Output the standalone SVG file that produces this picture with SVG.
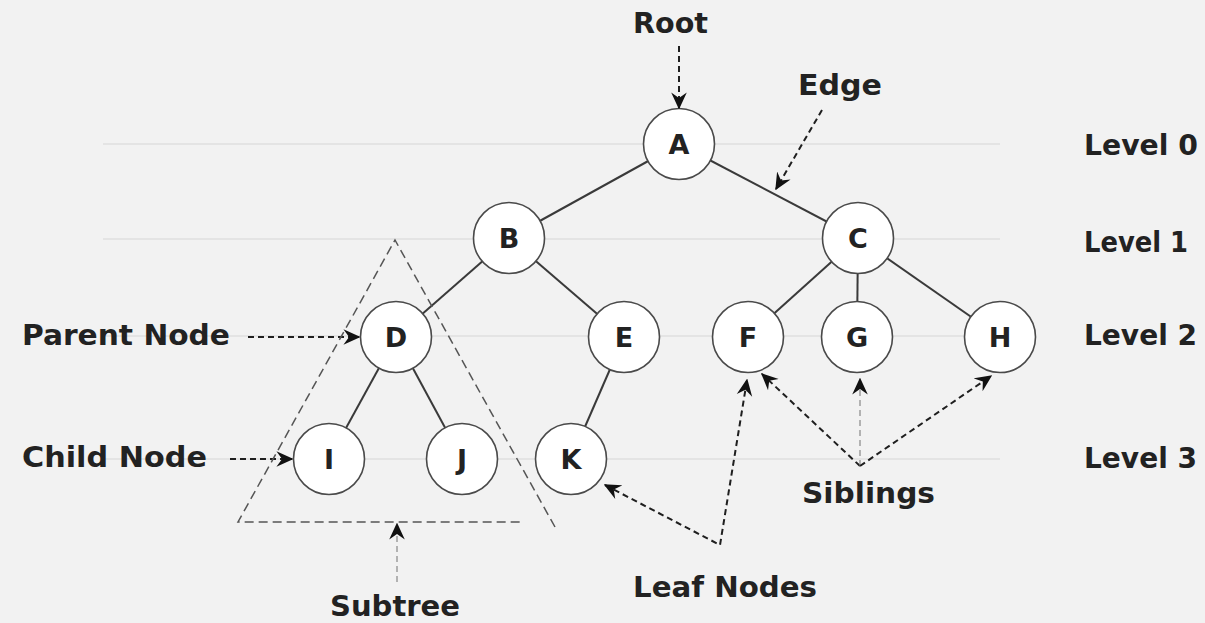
<svg xmlns="http://www.w3.org/2000/svg" width="1205" height="623" viewBox="0 0 1205 623">
  <defs>
    <marker id="arr" viewBox="0 0 12 12" refX="11" refY="6" markerWidth="17" markerHeight="17" markerUnits="userSpaceOnUse" orient="auto-start-reverse">
      <path d="M0,0.5 L12,6 L0,11.5 L4,6 z" fill="#111111"/>
    </marker>
    <style>
      .bg { fill: #f2f2f2; }
      .lvl { stroke: #e4e4e4; stroke-width: 2; fill: none; }
      .edge { stroke: #3a3a3a; stroke-width: 2; fill: none; }
      .node circle { fill: #ffffff; stroke: #4a4a4a; stroke-width: 1.6; }
      .node text { font-family: "DejaVu Sans", "Liberation Sans", sans-serif; font-weight: bold; font-size: 27px; fill: #222222; text-anchor: middle; }
      .lbl { font-family: "DejaVu Sans", "Liberation Sans", sans-serif; font-weight: bold; font-size: 29px; fill: #222222; }
      .dash { stroke: #1f1f1f; stroke-width: 2; stroke-dasharray: 6 4; fill: none; }
      .dashl { stroke: #555555; stroke-width: 1.5; stroke-dasharray: 9 5; fill: none; }
      .dashf { stroke: #888888; stroke-width: 1.2; stroke-dasharray: 6 4; fill: none; }
    </style>
  </defs>
  <rect class="bg" x="0" y="0" width="1205" height="623"/>

  <g id="levels">
    <line class="lvl" x1="103" y1="144" x2="1000" y2="144"/>
    <line class="lvl" x1="103" y1="239" x2="1000" y2="239"/>
    <line class="lvl" x1="103" y1="336" x2="1000" y2="336"/>
    <line class="lvl" x1="103" y1="459" x2="1000" y2="459"/>
  </g>

  <g id="connectors">
    <line class="edge" x1="679" y1="144" x2="509" y2="238"/>
    <line class="edge" x1="679" y1="144" x2="858" y2="238"/>
    <line class="edge" x1="509" y1="238" x2="396" y2="337"/>
    <line class="edge" x1="509" y1="238" x2="624" y2="337"/>
    <line class="edge" x1="858" y1="238" x2="748" y2="337"/>
    <line class="edge" x1="858" y1="238" x2="857" y2="337"/>
    <line class="edge" x1="858" y1="238" x2="1000" y2="337"/>
    <line class="edge" x1="396" y1="337" x2="329" y2="459"/>
    <line class="edge" x1="396" y1="337" x2="462" y2="459"/>
    <line class="edge" x1="624" y1="337" x2="571" y2="459"/>
  </g>

  <g id="nodes">
    <g id="node-A" class="node"><circle cx="679" cy="144" r="35.5"/><text x="679" y="154">A</text></g>
    <g id="node-B" class="node"><circle cx="509" cy="238" r="35.5"/><text x="509" y="248">B</text></g>
    <g id="node-C" class="node"><circle cx="858" cy="238" r="35.5"/><text x="858" y="248">C</text></g>
    <g id="node-D" class="node"><circle cx="396" cy="337" r="35.5"/><text x="396" y="347">D</text></g>
    <g id="node-E" class="node"><circle cx="624" cy="337" r="35.5"/><text x="624" y="347">E</text></g>
    <g id="node-F" class="node"><circle cx="748" cy="337" r="35.5"/><text x="748" y="347">F</text></g>
    <g id="node-G" class="node"><circle cx="857" cy="337" r="35.5"/><text x="857" y="347">G</text></g>
    <g id="node-H" class="node"><circle cx="1000" cy="337" r="35.5"/><text x="1000" y="347">H</text></g>
    <g id="node-I" class="node"><circle cx="329" cy="459" r="35.5"/><text x="329" y="469">I</text></g>
    <g id="node-J" class="node"><circle cx="462" cy="459" r="35.5"/><text x="462" y="469">J</text></g>
    <g id="node-K" class="node"><circle cx="571" cy="459" r="35.5"/><text x="571" y="469">K</text></g>
  </g>

  <g id="annotations">
    <line class="dash" x1="679" y1="46" x2="679" y2="108" marker-end="url(#arr)"/>
    <line class="dash" x1="822" y1="110" x2="776" y2="189" marker-end="url(#arr)"/>
    <line class="dash" x1="248" y1="337" x2="359" y2="337" marker-end="url(#arr)"/>
    <line class="dash" x1="230" y1="459" x2="292" y2="459" marker-end="url(#arr)"/>
    <polyline class="dashl" points="555,527 395,240 238,522 520,522"/>
    <line class="dashf" x1="397" y1="582" x2="397" y2="524" marker-end="url(#arr)"/>
    <polyline class="dash" points="605,485 720,545 747,380" marker-start="url(#arr)" marker-end="url(#arr)"/>
    <line class="dash" x1="860" y1="466" x2="762" y2="374" marker-end="url(#arr)"/>
    <line class="dashf" x1="860" y1="466" x2="860" y2="379" marker-end="url(#arr)"/>
    <line class="dash" x1="860" y1="466" x2="991" y2="376" marker-end="url(#arr)"/>
  </g>

  <g id="labels">
    <text class="lbl" x="633" y="33" textLength="75" lengthAdjust="spacingAndGlyphs">Root</text>
    <text class="lbl" x="798" y="95" textLength="84" lengthAdjust="spacingAndGlyphs">Edge</text>
    <text class="lbl" x="1084" y="155" textLength="114" lengthAdjust="spacingAndGlyphs">Level 0</text>
    <text class="lbl" x="1084" y="252" textLength="104" lengthAdjust="spacingAndGlyphs">Level 1</text>
    <text class="lbl" x="1084" y="345" textLength="113" lengthAdjust="spacingAndGlyphs">Level 2</text>
    <text class="lbl" x="1084" y="468" textLength="113" lengthAdjust="spacingAndGlyphs">Level 3</text>
    <text class="lbl" x="22" y="345" textLength="208" lengthAdjust="spacingAndGlyphs">Parent Node</text>
    <text class="lbl" x="22" y="467" textLength="185" lengthAdjust="spacingAndGlyphs">Child Node</text>
    <text class="lbl" x="802" y="503" textLength="133" lengthAdjust="spacingAndGlyphs">Siblings</text>
    <text class="lbl" x="633" y="597" textLength="184" lengthAdjust="spacingAndGlyphs">Leaf Nodes</text>
    <text class="lbl" x="330" y="616" textLength="130" lengthAdjust="spacingAndGlyphs">Subtree</text>
  </g>
</svg>
